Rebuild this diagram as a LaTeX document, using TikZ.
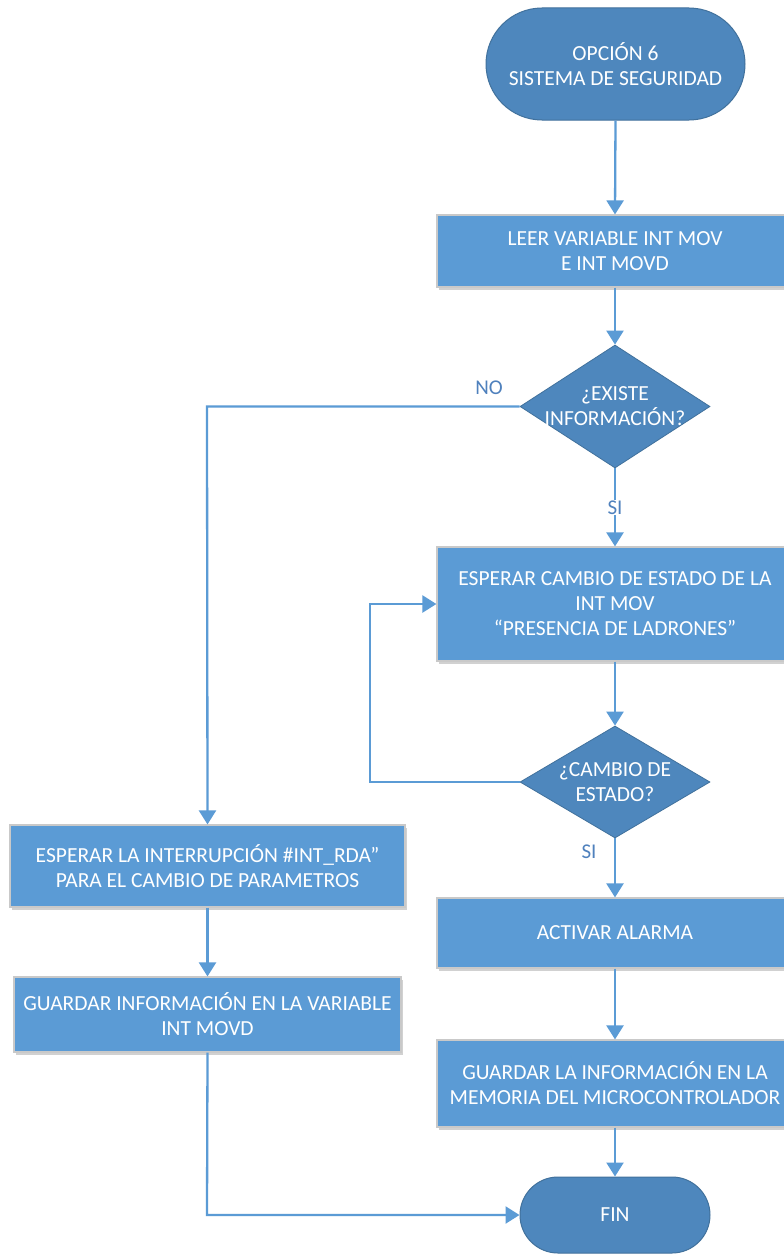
\documentclass[tikz,border=0pt]{standalone}
\usepackage{fontspec}
\setmainfont{Carlito}
\usetikzlibrary{shapes.geometric,arrows.meta,shadows}
\definecolor{boxblue}{HTML}{5B9BD5}
\definecolor{darkblue}{HTML}{4E87BD}
\definecolor{edgeblue}{HTML}{41719C}
\definecolor{boxedge}{HTML}{C9C9C9}
\definecolor{labelblue}{HTML}{4F81BD}
\tikzset{
  procbox/.style={rectangle, fill=boxblue, draw=boxedge, line width=1.2pt,
    drop shadow={shadow xshift=2pt, shadow yshift=-3pt, opacity=0.18, fill=black}},
  term/.style={rectangle, fill=darkblue, draw=edgeblue, line width=1pt},
  decision/.style={diamond, fill=darkblue, draw=edgeblue, line width=0.8pt, inner sep=0pt},
  txt/.style={text=white, align=center, font=\fontsize{21.5}{25}\selectfont},
  lbl/.style={text=labelblue, font=\fontsize{21}{24}\selectfont},
  flow/.style={draw=boxblue, line width=2.3pt, -{Triangle[width=17pt,length=14pt]}},
  plain/.style={draw=boxblue, line width=2.3pt}
}
\begin{document}
\begin{tikzpicture}[x=1pt,y=-1pt]
\useasboundingbox (0,0) rectangle (784,1255);
\fill[white] (0,0) rectangle (784,1255);

% terminals
\node[term, rounded corners=56pt, minimum width=259pt, minimum height=112pt] (start) at (615.5,64) {};
\node[txt] (starttxt) at (start) {OPCIÓN 6\\SISTEMA DE SEGURIDAD};
\node[term, rounded corners=38pt, minimum width=190pt, minimum height=76pt] (fin) at (615,1215) {};
\node[txt] (fintxt) at (fin) {FIN};

% right column process boxes
\node[procbox, minimum width=356pt, minimum height=72pt] (leer) at (615,251) {};
\node[txt] (leertxt) at (leer) {LEER VARIABLE INT MOV\\E INT MOVD};
\node[procbox, minimum width=356pt, minimum height=114pt] (esperar) at (615,604) {};
\node[txt] (esperartxt) at (esperar) {ESPERAR CAMBIO DE ESTADO DE LA\\INT MOV\\“PRESENCIA DE LADRONES”};
\node[procbox, minimum width=356pt, minimum height=70pt] (alarma) at (615,933) {};
\node[txt] (alarmatxt) at (alarma) {ACTIVAR ALARMA};
\node[procbox, minimum width=356pt, minimum height=87pt] (memoria) at (615,1083.5) {};
\node[txt] (memoriatxt) at (memoria) {GUARDAR LA INFORMACIÓN EN LA\\MEMORIA DEL MICROCONTROLADOR};

% left column process boxes
\node[procbox, minimum width=395pt, minimum height=82pt] (interr) at (207.5,866) {};
\node[txt] (interrtxt) at (interr) {ESPERAR LA INTERRUPCIÓN \#INT\_RDA”\\PARA EL CAMBIO DE PARAMETROS};
\node[procbox, minimum width=387pt, minimum height=75pt] (guardar) at (207.5,1014.5) {};
\node[txt] (guardartxt) at (guardar) {GUARDAR INFORMACIÓN EN LA VARIABLE\\INT MOVD};

% decisions
\node[decision, minimum width=190pt, minimum height=123pt] (existe) at (615,406.5) {};
\node[txt] (existetxt) at (existe) {¿EXISTE\\INFORMACIÓN?};
\node[decision, minimum width=190pt, minimum height=112pt] (cambio) at (615,782) {};
\node[txt] (cambiotxt) at (cambio) {¿CAMBIO DE\\ESTADO?};

% connectors
\coordinate (noturn) at (207,406.5);
\coordinate (loopbl) at (370,782);
\coordinate (looptl) at (370,604);
\coordinate (finturn) at (207,1215);

\draw[flow] (start.south) -- (leer.north);
\draw[flow] (leer.south) -- (existe.north);
\draw[flow] (existe.west) -- (noturn) -- (interr.north);
\node[lbl] (nolbl) at (489,388) {NO};
\draw[flow] (existe.south) -- node[lbl, fill=white, inner sep=1pt, pos=0.5] (si1) {SI} (esperar.north);
\draw[flow] (esperar.south) -- (cambio.north);
\draw[flow] (cambio.west) -- (loopbl) -- (looptl) -- (esperar.west);
\draw[flow] (cambio.south) -- (alarma.north);
\node[lbl] (si2) at (589,852) {SI};
\draw[flow] (alarma.south) -- (memoria.north);
\draw[flow] (memoria.south) -- (fin.north);
\draw[flow] (interr.south) -- (guardar.north);
\draw[flow] (guardar.south) -- (finturn) -- (fin.west);
\end{tikzpicture}
\end{document}
